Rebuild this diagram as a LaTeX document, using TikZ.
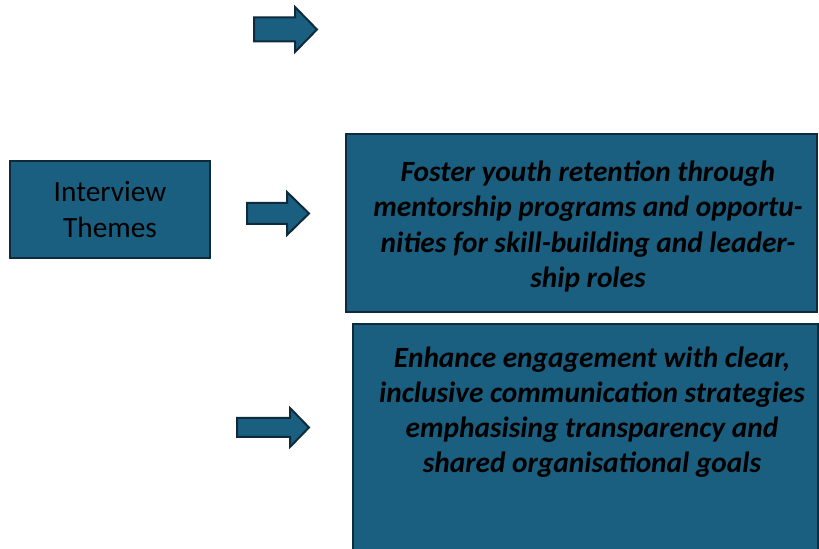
\documentclass[tikz,border=0pt]{standalone}
\usepackage{fontspec}
\setmainfont{Carlito}
\usepackage{tikz}
\usetikzlibrary{positioning}
\definecolor{boxblue}{HTML}{1A5E80}
\definecolor{boxedge}{HTML}{0E2B3B}
\tikzstyle{box}      = [draw=boxedge, fill=boxblue, line width=1.5pt, rectangle, inner sep=0pt]
\tikzstyle{plaintext} = [font=\fontsize{22}{27}\selectfont, align=center, text=black]
\tikzstyle{bigtext}  = [font=\fontsize{22}{26.3}\selectfont\bfseries\itshape, align=center, text=black]
\tikzstyle{blockarrow} = [draw=boxedge, fill=boxblue, line width=1.5pt, line join=miter]

\begin{document}
\begin{tikzpicture}[x=0.75pt, y=-0.75pt]
  \useasboundingbox (0,0) rectangle (819,549);
  \clip (0,0) rectangle (819,549);

  %left box
  \node[box, plaintext, minimum width=150pt, minimum height=72.75pt] (themes) at (110,209.5)
    {Interview\\Themes};

  %the two boxes on the right, text set a little right of centre
  \node[box, minimum width=353.25pt, minimum height=133.5pt] (retain) at (581.75,223) {};
  \node[bigtext] (retaintext) at (588,226.5)
    {Foster youth retention through\\
     mentorship programs and opportu-\\
     nities for skill-building and leader-\\
     ship roles};
  \node[box, minimum width=348.4pt, minimum height=207pt] (engage) at (585.25,462) {};
  \node[bigtext] (engagetext) at (592,412.5)
    {Enhance engagement with clear,\\
     inclusive communication strategies\\
     emphasising transparency and\\
     shared organisational goals};

  %block arrows: start x / mid y / length / head length / half shaft / half head
  \foreach \x/\y/\l/\L/\s/\h in {254/29.5/63/22/12/22.5,
                                  247/213.5/62/22/10.5/21.5,
                                  237/427.5/72/19/9.5/19.5}{
    \draw[blockarrow] (\x,\y-\s) -- (\x+\l-\L,\y-\s) -- (\x+\l-\L,\y-\h) -- (\x+\l,\y)
      -- (\x+\l-\L,\y+\h) -- (\x+\l-\L,\y+\s) -- (\x,\y+\s) -- cycle;
  }
\end{tikzpicture}
\end{document}
